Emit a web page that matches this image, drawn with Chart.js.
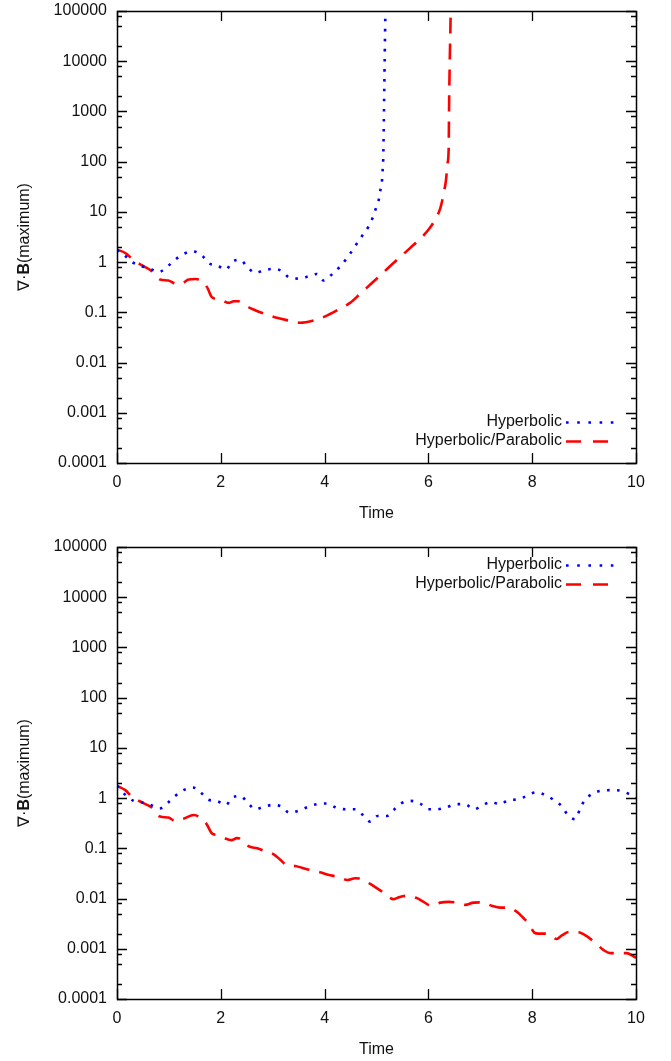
<!DOCTYPE html>
<html>
<head>
<meta charset="utf-8">
<script src="https://cdn.jsdelivr.net/npm/chart.js@4.4.1/dist/chart.umd.min.js"></script>
<style>
  html, body { margin: 0; padding: 0; background: #fff; overflow: hidden; }
  #wrap { position: relative; width: 671px; height: 1061px; }
  canvas { position: absolute; left: 0; }
  #c1 { top: 0; }
  #c2 { top: 536px; }
</style>
</head>
<body>
<div id="wrap">
  <canvas id="c1" width="671" height="530"></canvas>
  <canvas id="c2" width="671" height="530"></canvas>
</div>
<script>
// ---------- DATA ----------
const seriesLabels = ['Hyperbolic', 'Hyperbolic/Parabolic'];
const xTitle = 'Time';
const yTickValues = [1e5, 1e4, 1e3, 1e2, 10, 1, 0.1, 0.01, 0.001, 0.0001];
const yTickLabels = ['100000', '10000', '1000', '100', '10', '1', '0.1', '0.01', '0.001', '0.0001'];
const xTickValues = [0, 2, 4, 6, 8, 10];

// Top panel: Hyperbolic
const topHypT = [0, 0.15, 0.29, 0.48, 0.67, 0.80, 0.99, 1.12, 1.28, 1.46, 1.64, 1.76, 1.93, 2.10, 2.21, 2.37, 2.50, 2.66, 2.82, 3.00, 3.18, 3.31, 3.50, 3.69, 3.85, 3.98, 4.15, 4.29, 4.42, 4.53, 4.63, 4.74, 4.85, 4.93, 4.99, 5.05, 5.08, 5.11, 5.12, 5.13, 5.15, 5.17, 5.175];
const topHypV = [1.75, 1.35, 1.0, 0.83, 0.71, 0.63, 0.85, 1.12, 1.45, 1.64, 1.35, 0.96, 0.86, 0.71, 0.99, 1.12, 0.83, 0.61, 0.68, 0.73, 0.66, 0.50, 0.47, 0.52, 0.58, 0.43, 0.58, 0.80, 1.16, 1.69, 2.41, 3.52, 5.16, 7.8, 11.9, 18.6, 29.4, 47, 74, 118, 3000, 80000, 150000];
// Top panel: Hyperbolic/Parabolic
const topParT = [0, 0.16, 0.32, 0.51, 0.67, 0.83, 0.99, 1.16, 1.28, 1.38, 1.51, 1.64, 1.74, 1.83, 1.99, 2.15, 2.25, 2.34, 2.44, 2.63, 2.82, 3.08, 3.27, 3.53, 3.79, 4.01, 4.27, 4.49, 4.69, 4.88, 5.07, 5.26, 5.46, 5.65, 5.84, 6.00, 6.13, 6.23, 6.29, 6.34, 6.37, 6.39, 6.40, 6.43, 6.435];
const topParV = [1.77, 1.52, 1.09, 0.83, 0.66, 0.45, 0.43, 0.36, 0.39, 0.45, 0.46, 0.42, 0.31, 0.20, 0.18, 0.154, 0.166, 0.166, 0.143, 0.114, 0.095, 0.078, 0.070, 0.062, 0.069, 0.083, 0.114, 0.154, 0.236, 0.357, 0.54, 0.83, 1.27, 1.92, 2.89, 4.4, 7.0, 11.9, 22, 44, 94, 172, 1700, 100000, 200000];

// Bottom panel: Hyperbolic
const botHypT = [0, 0.13, 0.32, 0.49, 0.65, 0.82, 0.98, 1.12, 1.28, 1.46, 1.60, 1.75, 1.93, 2.10, 2.21, 2.37, 2.52, 2.66, 2.82, 3.00, 3.18, 3.32, 3.50, 3.68, 3.86, 4.04, 4.22, 4.40, 4.59, 4.74, 4.88, 5.02, 5.20, 5.33, 5.47, 5.66, 5.84, 6.00, 6.16, 6.34, 6.53, 6.71, 6.88, 7.03, 7.20, 7.38, 7.54, 7.72, 7.89, 8.07, 8.26, 8.42, 8.57, 8.68, 8.83, 8.92, 9.00, 9.15, 9.32, 9.51, 9.71, 9.88, 10.0];
const botHypV = [1.75, 1.24, 0.88, 0.82, 0.73, 0.62, 0.81, 1.10, 1.44, 1.63, 1.34, 0.94, 0.87, 0.73, 1.0, 1.10, 0.81, 0.60, 0.67, 0.73, 0.67, 0.51, 0.56, 0.67, 0.76, 0.78, 0.65, 0.60, 0.60, 0.46, 0.34, 0.44, 0.44, 0.58, 0.78, 0.88, 0.78, 0.60, 0.60, 0.65, 0.76, 0.75, 0.60, 0.70, 0.84, 0.75, 0.91, 0.94, 1.10, 1.30, 1.15, 0.91, 0.69, 0.47, 0.38, 0.60, 0.87, 1.20, 1.40, 1.44, 1.40, 1.18, 1.0];
// Bottom panel: Hyperbolic/Parabolic
const botParT = [0, 0.16, 0.29, 0.48, 0.67, 0.83, 0.99, 1.12, 1.28, 1.48, 1.57, 1.72, 1.83, 1.93, 2.12, 2.21, 2.31, 2.39, 2.53, 2.70, 2.84, 3.02, 3.14, 3.27, 3.43, 3.56, 3.72, 3.91, 4.11, 4.30, 4.43, 4.59, 4.69, 4.88, 5.13, 5.33, 5.39, 5.55, 5.78, 5.90, 6.05, 6.23, 6.39, 6.55, 6.71, 6.87, 7.03, 7.22, 7.38, 7.51, 7.70, 7.83, 7.93, 8.04, 8.12, 8.28, 8.47, 8.57, 8.71, 8.89, 9.05, 9.21, 9.37, 9.50, 9.63, 9.82, 10.0];
const botParV = [1.76, 1.44, 1.06, 0.82, 0.65, 0.43, 0.41, 0.35, 0.39, 0.46, 0.43, 0.31, 0.198, 0.184, 0.153, 0.146, 0.16, 0.153, 0.111, 0.100, 0.089, 0.076, 0.060, 0.0465, 0.0445, 0.0411, 0.037, 0.0333, 0.0290, 0.0265, 0.0234, 0.0253, 0.0249, 0.0195, 0.0132, 0.0097, 0.0102, 0.0113, 0.0102, 0.0087, 0.0072, 0.0083, 0.0086, 0.0083, 0.0075, 0.0083, 0.0084, 0.0072, 0.0066, 0.0066, 0.0055, 0.0041, 0.0032, 0.0021, 0.0020, 0.0020, 0.00157, 0.00184, 0.00216, 0.00213, 0.00178, 0.00133, 0.00095, 0.00082, 0.00082, 0.00082, 0.00066];

// ---------- STYLE ----------
const FONT = 'Liberation Sans, Arial, Helvetica, sans-serif';
const fontSpec = { family: FONT, size: 16 };
const TXT = '#111';
const BLUE = '#0000ff';
const RED = '#ff0000';

const toPts = (ts, vs) => ts.map((t, i) => ({ x: t, y: vs[i] }));

const framePlugin = {
  id: 'gnuFrame',
  afterDraw(chart) {
    const ctx = chart.ctx;
    const a = chart.chartArea;
    const xs = chart.scales.x, ys = chart.scales.y;
    ctx.save();
    ctx.strokeStyle = '#000';
    ctx.lineWidth = 1.3;
    ctx.beginPath();
    // y ticks major + minor (2,5,8)
    yTickValues.forEach(v => {
      const p = Math.round(ys.getPixelForValue(v)) + 0.5;
      ctx.moveTo(a.left, p); ctx.lineTo(a.left + 10, p);
      ctx.moveTo(a.right, p); ctx.lineTo(a.right - 10, p);
      if (v < 1e5) {
        [2, 5, 8].forEach(m => {
          const q = Math.round(ys.getPixelForValue(v * m)) + 0.5;
          ctx.moveTo(a.left, q); ctx.lineTo(a.left + 5, q);
          ctx.moveTo(a.right, q); ctx.lineTo(a.right - 5, q);
        });
      }
    });
    xTickValues.forEach(v => {
      const p = Math.round(xs.getPixelForValue(v)) + 0.5;
      ctx.moveTo(p, a.bottom); ctx.lineTo(p, a.bottom - 10);
      ctx.moveTo(p, a.top); ctx.lineTo(p, a.top + 10);
    });
    ctx.stroke();
    ctx.lineWidth = 1.5;
    ctx.strokeRect(Math.round(a.left) + 0.5, Math.round(a.top) + 0.5, Math.round(a.right - a.left), Math.round(a.bottom - a.top));
    ctx.restore();

    // y-axis title with bold B
    ctx.save();
    const cy = (a.top + a.bottom) / 2;
    ctx.translate(25, cy);
    ctx.rotate(-Math.PI / 2);
    ctx.fillStyle = TXT;
    ctx.textBaseline = 'middle';
    const parts = [['\u2207\u00B7', 'normal'], ['B', 'bold'], ['(maximum)', 'normal']];
    let total = 0;
    parts.forEach(p => { ctx.font = p[1] + ' 16px ' + FONT; total += ctx.measureText(p[0]).width; });
    let x0 = -total / 2;
    parts.forEach(p => {
      ctx.font = p[1] + ' 16px ' + FONT;
      ctx.textAlign = 'left';
      ctx.fillText(p[0], x0, 0);
      x0 += ctx.measureText(p[0]).width;
    });
    ctx.restore();

    // legend (gnuplot style: text then sample)
    const opts = chart.options.plugins.gnuLegend;
    ctx.save();
    ctx.font = '16px ' + FONT;
    ctx.textBaseline = 'middle';
    ctx.textAlign = 'right';
    chart.data.datasets.forEach((ds, i) => {
      const y = opts.rows[i];
      ctx.fillStyle = TXT;
      ctx.fillText(ds.label, a.right - 74, y);
      ctx.strokeStyle = ds.borderColor;
      ctx.lineWidth = ds.borderWidth;
      ctx.setLineDash(ds.legendDash);
      ctx.beginPath();
      ctx.moveTo(a.right - 70, y + 0.5);
      ctx.lineTo(a.right - 22, y + 0.5);
      ctx.stroke();
    });
    ctx.restore();
  }
};

function makeChart(id, hT, hV, pT, pV, legendRows) {
  return new Chart(document.getElementById(id).getContext('2d'), {
    type: 'line',
    data: {
      datasets: [
        { label: seriesLabels[0], data: toPts(hT, hV), borderColor: BLUE, borderWidth: 2.6,
          borderDash: [2.6, 7.4], legendDash: [2.6, 8.6], borderCapStyle: 'butt', pointRadius: 0,
          cubicInterpolationMode: 'monotone', fill: false },
        { label: seriesLabels[1], data: toPts(pT, pV), borderColor: RED, borderWidth: 2.6,
          borderDash: [16, 10], legendDash: [15, 12], borderCapStyle: 'butt', pointRadius: 0,
          cubicInterpolationMode: 'monotone', fill: false }
      ]
    },
    options: {
      animation: false,
      responsive: false,
      devicePixelRatio: 1,
      layout: { padding: { left: 0, right: 35, top: 11, bottom: 0 } },
      scales: {
        x: {
          type: 'linear', min: 0, max: 10,
          afterBuildTicks(s) { s.ticks = xTickValues.map(v => ({ value: v })); },
          ticks: { font: fontSpec, color: TXT, padding: 10, maxRotation: 0, callback: v => String(v) },
          grid: { display: false, drawTicks: false },
          border: { display: false },
          title: { display: true, text: xTitle, font: fontSpec, color: TXT, padding: { top: 0, bottom: 7 } },
          afterFit(s) { s.height = 67; s.paddingLeft = 0; s.paddingRight = 0; }
        },
        y: {
          type: 'logarithmic', min: 1e-4, max: 1e5,
          afterBuildTicks(s) { s.ticks = yTickValues.map(v => ({ value: v })); },
          ticks: { font: fontSpec, color: TXT, padding: 10,
            callback: (v) => { const i = yTickValues.findIndex(t => Math.abs(Math.log10(t) - Math.log10(v)) < 1e-6); return i >= 0 ? yTickLabels[i] : ''; } },
          grid: { display: false, drawTicks: false },
          border: { display: false },
          afterFit(s) { s.width = 117; s.paddingTop = 0; s.paddingBottom = 0; }
        }
      },
      plugins: {
        legend: { display: false },
        tooltip: { enabled: false },
        gnuLegend: { rows: legendRows }
      }
    },
    plugins: [framePlugin]
  });
}

makeChart('c1', topHypT, topHypV, topParT, topParV, [422, 441]);
makeChart('c2', botHypT, botHypV, botParT, botParV, [29, 48]);
</script>
</body>
</html>
